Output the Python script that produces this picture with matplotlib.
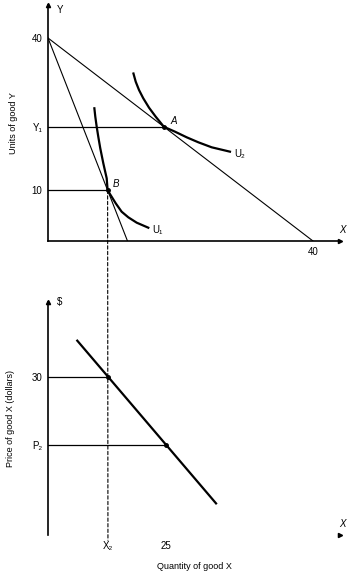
import numpy as np
import matplotlib
matplotlib.use("Agg")
import matplotlib.pyplot as plt
from matplotlib.patches import ConnectionPatch

plt.rcParams['font.family'] = ['Liberation Sans', 'DejaVu Sans']

# top panel: budget lines and indifference curves
budget1_x = [0, 40]
budget1_y = [40, 0]
budget2_x = [0, 12]
budget2_y = [40, 0]
u2_x = [12.9, 13.24, 13.74, 14.38, 15.25, 16.26, 17.5, 19.17, 20.94, 22.69, 24.71, 27.47]
u2_y = [33.0, 31.39, 29.75, 28.12, 26.27, 24.49, 22.5, 21.54, 20.43, 19.45, 18.46, 17.6]
u1_x = [7.0, 7.14, 7.35, 7.59, 7.89, 8.35, 8.86, 9.0, 10.22, 11.12, 12.12, 13.39, 15.14]
u1_y = [26.15, 24.49, 22.52, 20.55, 18.27, 15.31, 12.35, 10.0, 7.43, 5.77, 4.67, 3.61, 2.62]
point_a = (17.5, 22.5)
point_b = (9.0, 10.0)
top_yticks = [40, 22.5, 10]
top_ylabels = ['40', 'Y₁', '10']

# bottom panel: demand curve
demand_x = [6.2, 35.6]
demand_y = [36.9, 6.0]
price_pts = [30, 17.1]
qty_pts = [12.7, 25]
bottom_yticks = [30, 17.1]
bottom_ylabels = ['30', 'P₂']
bottom_xticks = [12.7, 25]
bottom_xlabels = ['X₂', '25']

W, H = 347, 572
fig = plt.figure(figsize=(W / 100, H / 100), dpi=100)

def px_axes(x0, y0, x1, y1):
    return fig.add_axes([x0 / W, 1 - y1 / H, (x1 - x0) / W, (y1 - y0) / H])

ax1 = px_axes(48, 5, 340, 241)
ax1.set_xlim(0, 44.08)
ax1.set_ylim(0, 46.5)
ax2 = px_axes(48, 302, 340, 535)
ax2.set_xlim(0, 61.86)
ax2.set_ylim(0, 44.24)

for ax in (ax1, ax2):
    for s in ('top', 'right'):
        ax.spines[s].set_visible(False)
    ax.spines['left'].set_linewidth(1.2)
    ax.spines['bottom'].set_linewidth(1.2)
    ax.patch.set_alpha(0)
    ax.tick_params(length=0, labelsize=7, pad=4)
ax2.spines['bottom'].set_visible(False)

# arrowheads on axes
ax1.plot(0, 1, '^', color='black', ms=3, transform=ax1.transAxes, clip_on=False)
ax1.plot(1, 0, '>', color='black', ms=3, transform=ax1.transAxes, clip_on=False)
ax2.plot(0, 1, '^', color='black', ms=3, transform=ax2.transAxes, clip_on=False)
ax2.plot(1, 0, '>', color='black', ms=3, transform=ax2.transAxes, clip_on=False)

# top panel
ax1.plot(budget1_x, budget1_y, color='black', lw=0.8)
ax1.plot(budget2_x, budget2_y, color='black', lw=0.8)
ax1.plot(u2_x, u2_y, color='black', lw=1.6, solid_joinstyle='round')
ax1.plot(u1_x, u1_y, color='black', lw=1.6, solid_joinstyle='round')
ax1.plot([0, point_a[0]], [point_a[1]] * 2, color='black', lw=0.9)
ax1.plot([0, point_b[0]], [point_b[1]] * 2, color='black', lw=0.9)
ax1.plot(*point_a, 'o', color='black', ms=2.5)
ax1.plot(*point_b, 'o', color='black', ms=2.5)

ax1.set_yticks(top_yticks)
ax1.set_yticklabels(top_ylabels)
ax1.set_xticks([40])
ax1.set_xticklabels(['40'])
ax1.set_ylabel('Units of good Y', fontsize=6.5, labelpad=10)
ax1.text(0.03, 0.98, 'Y', transform=ax1.transAxes, fontsize=7, va='center')
ax1.text(1.01, 0.025, 'X', transform=ax1.transAxes, fontsize=7, ha='center', va='bottom', style='italic')
ax1.annotate('A', point_a, xytext=(5, 2), textcoords='offset points', fontsize=7, style='italic')
ax1.annotate('B', point_b, xytext=(4, 2), textcoords='offset points', fontsize=7, style='italic')
ax1.annotate('U₂', (u2_x[-1], u2_y[-1]), xytext=(3, -4), textcoords='offset points', fontsize=7)
ax1.annotate('U₁', (u1_x[-1], u1_y[-1]), xytext=(3, -4), textcoords='offset points', fontsize=7)

# bottom panel
ax2.plot(demand_x, demand_y, color='black', lw=1.6)
for q, p in zip(qty_pts, price_pts):
    ax2.plot([0, q], [p, p], color='black', lw=0.9)
ax2.plot(qty_pts, price_pts, 'o', color='black', ms=2.5)
ax2.set_yticks(bottom_yticks)
ax2.set_yticklabels(bottom_ylabels)
ax2.set_xticks(bottom_xticks)
ax2.set_xticklabels(bottom_xlabels)
ax2.set_ylabel('Price of good X (dollars)', fontsize=6.5, labelpad=12)
ax2.set_xlabel('Quantity of good X', fontsize=6.5, labelpad=8)
ax2.text(0.03, 1.0, '$', transform=ax2.transAxes, fontsize=7, va='center')
ax2.text(1.01, 0.025, 'X', transform=ax2.transAxes, fontsize=7, ha='center', va='bottom', style='italic')

# dashed line from B down to the demand curve
con = ConnectionPatch(xyA=point_b, coordsA=ax1.transData,
                      xyB=(qty_pts[0], -1), coordsB=ax2.transData,
                      color='black', lw=0.8, linestyle=(0, (3, 2)))
fig.add_artist(con)

fig.savefig('out.png', dpi=100)
